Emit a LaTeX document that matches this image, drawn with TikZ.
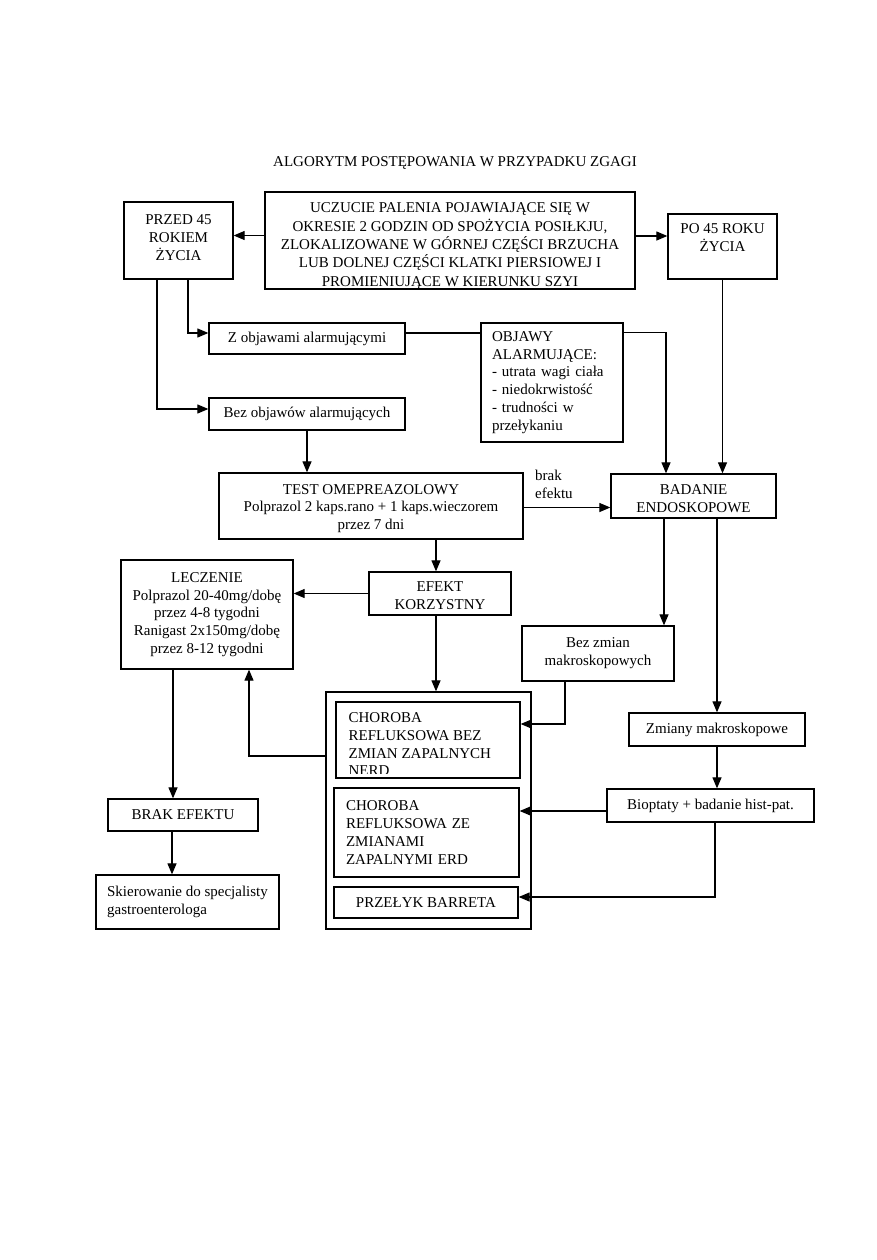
\documentclass[tikz,border=0pt]{standalone}
\usepackage{fontspec}
\setmainfont{Liberation Serif}
\usetikzlibrary{arrows.meta}
\begin{document}
\begin{tikzpicture}[x=1pt,y=-1pt,
  txt/.style={font=\fontsize{15}{17.8}\selectfont},
  box/.style={draw,line width=1.3pt,inner sep=0pt,align=center,txt},
  lbox/.style={draw,line width=1.3pt,inner ysep=0pt,align=left,txt},
  arr/.style={line width=1.2pt,-{Triangle[length=11pt,width=9pt]}},
  ln/.style={line width=1.2pt}]
\useasboundingbox (0,0) rectangle (876,1260);
\node[txt] (title) at (455,163) {ALGORYTM POSTĘPOWANIA W PRZYPADKU ZGAGI};
\node[box,font=\fontsize{15}{18.3}\selectfont,minimum width=370pt,minimum height=97pt] (uc) at (450,240.5)
  {\rule{0pt}{21pt}UCZUCIE PALENIA POJAWIAJĄCE SIĘ W\\OKRESIE 2 GODZIN OD SPOŻYCIA POSIŁKJU,\\ZLOKALIZOWANE W GÓRNEJ CZĘŚCI BRZUCHA\\LUB DOLNEJ CZĘŚCI KLATKI PIERSIOWEJ I\\PROMIENIUJĄCE W KIERUNKU SZYI};
\node[box,minimum width=109pt,minimum height=77pt] (przed) at (178.5,240.5) {PRZED 45\\ROKIEM\\ŻYCIA\rule[-6pt]{0pt}{6pt}};
\node[box,minimum width=109pt,minimum height=65pt] (po) at (722.5,246.5) {PO 45 ROKU\\ŻYCIA\\\mbox{}};
\node[box,minimum width=196pt,minimum height=31pt] (zob) at (307,338.5) {Z objawami alarmującymi};
\node[box,minimum width=196pt,minimum height=32pt] (bez) at (307,414) {Bez objawów alarmujących};
\node[lbox,inner xsep=11pt,text width=120pt,minimum height=119pt] (objawy) at (552,382.5)
  {OBJAWY\\ALARMUJĄCE:\\- utrata wagi ciała\\- niedokrwistość\\- trudności w\\przełykaniu};
\node[box,minimum width=304pt,minimum height=66pt] (test) at (371,506)
  {\rule{0pt}{15pt}TEST OMEPREAZOLOWY\\Polprazol 2 kaps.rano + 1 kaps.wieczorem\\przez 7 dni};
\node[box,minimum width=165pt,minimum height=44pt] (badanie) at (693.5,496) {\rule{0pt}{16pt}BADANIE\\ENDOSKOPOWE};
\node[txt,align=left,anchor=west,inner sep=0pt] (brakl) at (535,484.5) {brak\\efektu};
\node[box,minimum width=142pt,minimum height=43pt] (efekt) at (440,593.5) {\rule{0pt}{14pt}EFEKT\\KORZYSTNY};
\node[box,minimum width=172pt,minimum height=109pt] (lecz) at (207,614.5)
  {LECZENIE\\Polprazol 20-40mg/dobę\\przez 4-8 tygodni\\Ranigast 2x150mg/dobę\\przez 8-12 tygodni};
\node[box,minimum width=152pt,minimum height=55pt] (bezzm) at (598,653.5) {Bez zmian\\makroskopowych};
\node[draw,line width=1.3pt,minimum width=205pt,minimum height=237pt,inner sep=0pt] (group) at (428.5,810.5) {};
\node[draw,line width=1.3pt,minimum width=184pt,minimum height=76pt,inner sep=0pt,
  path picture={
    \clip ([yshift=5pt]path picture bounding box.south west) rectangle (path picture bounding box.north east);
    \node[txt,draw=none,minimum width=0pt,minimum height=0pt,align=left,anchor=north west,inner sep=0pt]
      at ([xshift=12pt,yshift=-10pt]path picture bounding box.north west)
      {CHOROBA\\REFLUKSOWA BEZ\\ZMIAN ZAPALNYCH\\NERD};
  }] (nerd) at (428,740) {};
\node[lbox,inner xsep=12pt,text width=161pt,minimum height=89pt] (erd) at (426.5,832.5)
  {CHOROBA\\REFLUKSOWA ZE\\ZMIANAMI\\ZAPALNYMI ERD};
\node[box,minimum width=184pt,minimum height=31pt] (barr) at (426,902.5) {PRZEŁYK BARRETA};
\node[box,minimum width=176pt,minimum height=33pt] (zmiany) at (717,729.5) {Zmiany makroskopowe};
\node[box,minimum width=207pt,minimum height=33pt] (biop) at (710.5,805.5) {Bioptaty + badanie hist-pat.};
\node[box,minimum width=150pt,minimum height=32pt] (brak) at (183,815) {BRAK EFEKTU};
\node[box,align=left,minimum width=183pt,minimum height=54pt] (skier) at (187.5,902)
  {Skierowanie do specjalisty\\gastroenterologa};
% connectors
\draw[arr] ([yshift=5pt]uc.west) -- ([yshift=5pt]uc.west -| przed.east);
\draw[arr] ([yshift=4.5pt]uc.east) -- ([yshift=4.5pt]uc.east -| po.west);
\draw[arr] ([xshift=9.5pt]przed.south) |- ([yshift=5.5pt]zob.west);
\draw[arr] ([xshift=-21.5pt]przed.south) |- ([yshift=5pt]bez.west);
\draw[ln] ([yshift=5.5pt]zob.east) -- ([yshift=5.5pt]zob.east -| objawy.west);
\draw[arr] ([yshift=-10pt]objawy.north east) -| ([xshift=-27.5pt]badanie.north);
\draw[arr] (po.south) -- (po.south |- badanie.north);
\draw[arr] (bez.south) -- (bez.south |- test.north);
\draw[arr] ([yshift=-1.5pt]test.east) -- ([yshift=-1.5pt]test.east -| badanie.west);
\draw[arr] ([xshift=-4pt]efekt.north |- test.south) -- ([xshift=-4pt]efekt.north);
\draw[arr] (efekt.west) -- (efekt.west -| lecz.east);
\draw[arr] ([xshift=-4pt]efekt.south) -- ([xshift=-4pt]efekt.south |- group.north);
\draw[arr] ([xshift=-29.5pt]badanie.south) -- ([xshift=-29.5pt]badanie.south |- bezzm.north);
\draw[arr] (zmiany.north |- badanie.south) -- (zmiany.north);
\draw[arr] ([xshift=-33pt]bezzm.south) |- ([yshift=16pt]nerd.east);
\draw[arr] ([yshift=54.5pt]group.west) -| ([xshift=42pt]lecz.south);
\draw[arr] ([xshift=-34pt]lecz.south) -- ([xshift=-34pt]lecz.south |- brak.north);
\draw[arr] ([xshift=-11pt]brak.south) -- ([xshift=-11pt]brak.south |- skier.north);
\draw[arr] (zmiany.south) -- (zmiany.south |- biop.north);
\draw[arr] ([yshift=-5.5pt]biop.west) -- ([yshift=-5.5pt]biop.west -| erd.east);
\draw[arr] ([xshift=4.5pt]biop.south) |- ([yshift=5.5pt]barr.east);
\end{tikzpicture}
\end{document}
